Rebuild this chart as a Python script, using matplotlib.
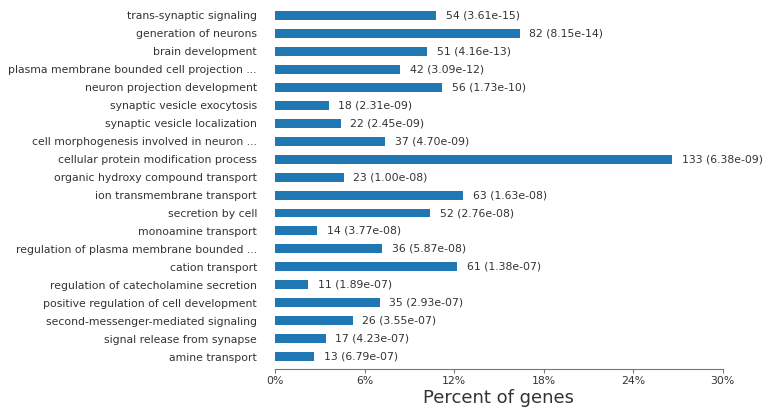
import matplotlib
matplotlib.use("Agg")
import matplotlib.pyplot as plt
from matplotlib.ticker import FuncFormatter

terms = [
    "trans-synaptic signaling",
    "generation of neurons",
    "brain development",
    "plasma membrane bounded cell projection ...",
    "neuron projection development",
    "synaptic vesicle exocytosis",
    "synaptic vesicle localization",
    "cell morphogenesis involved in neuron ...",
    "cellular protein modification process",
    "organic hydroxy compound transport",
    "ion transmembrane transport",
    "secretion by cell",
    "monoamine transport",
    "regulation of plasma membrane bounded ...",
    "cation transport",
    "regulation of catecholamine secretion",
    "positive regulation of cell development",
    "second-messenger-mediated signaling",
    "signal release from synapse",
    "amine transport",
]
gene_counts = [54, 82, 51, 42, 56, 18, 22, 37, 133, 23, 63, 52, 14, 36, 61, 11, 35, 26, 17, 13]
p_values = ["3.61e-15", "8.15e-14", "4.16e-13", "3.09e-12", "1.73e-10", "2.31e-09",
            "2.45e-09", "4.70e-09", "6.38e-09", "1.00e-08", "1.63e-08", "2.76e-08",
            "3.77e-08", "5.87e-08", "1.38e-07", "1.89e-07", "2.93e-07", "3.55e-07",
            "4.23e-07", "6.79e-07"]
total_genes = 500
x_ticks = [0, 6, 12, 18, 24, 30]

percents = [c / total_genes * 100 for c in gene_counts]
ypos = list(range(len(terms)))

fig = plt.figure(figsize=(7.64, 4.12), dpi=100)
ax = fig.add_axes([0.36, 0.104, 0.586, 0.889])

text_color = "#333333"
ax.barh(ypos, percents, height=0.5, color="#1f77b4")
for y, pct, n, p in zip(ypos, percents, gene_counts, p_values):
    ax.text(pct + 0.65, y, f"{n} ({p})", va="center", ha="left",
            fontsize=7.8, color=text_color)

ax.set_ylim(len(terms) - 1 + 0.68, -0.68)
ax.set_xlim(0, 30)
ax.set_yticks(ypos)
ax.set_yticklabels(terms, fontsize=7.8, color=text_color)
ax.tick_params(axis="y", length=0, pad=13)
ax.set_xticks(x_ticks)
ax.xaxis.set_major_formatter(FuncFormatter(lambda v, _: f"{v:.0f}%"))
ax.tick_params(axis="x", length=3, color="#777777", labelsize=7.8,
               labelcolor=text_color, pad=2)
for side in ["top", "right", "left"]:
    ax.spines[side].set_visible(False)
ax.spines["bottom"].set_color("#777777")
ax.set_xlabel("Percent of genes", fontsize=13, color=text_color, labelpad=2)

fig.savefig("out.png", dpi=100)
